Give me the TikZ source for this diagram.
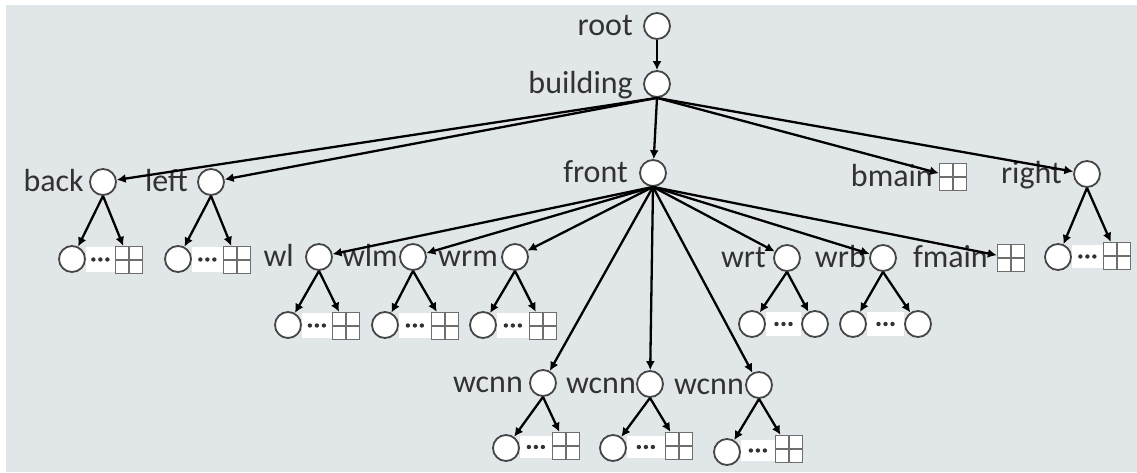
\documentclass[tikz,border=0pt]{standalone}
\usepackage{fontspec}
\setmainfont{Carlito}
\usetikzlibrary{arrows.meta,calc}
\pgfdeclarelayer{bg}
\pgfsetlayers{bg,main}
\definecolor{bggrey}{RGB}{225,230,233}
\definecolor{outl}{RGB}{70,70,70}
\definecolor{gridc}{RGB}{110,110,110}
\definecolor{txt}{RGB}{50,50,50}
\newcommand{\dotsbetween}[2]{%
  \begin{pgfonlayer}{bg}\fill[white] ($(#1.east)+(0,-12)$) rectangle ($(#2.west)+(0,12)$);\end{pgfonlayer}
  \path (#1.east) -- (#2.west) coordinate[pos=.5] (m#1);
  \fill[txt] ($(m#1)+(-7,0)$) circle (2.2pt) (m#1) circle (2.2pt) ($(m#1)+(7,0)$) circle (2.2pt);}
\begin{document}
\begin{tikzpicture}[x=1pt,y=-1pt,
  cnode/.style={circle,draw=outl,fill=white,line width=1.8pt,minimum size=26,inner sep=0},
  gnode/.style={rectangle,draw=gridc,fill=white,line width=1.3pt,minimum size=27,inner sep=0,
    path picture={\draw[gridc,line width=1.3pt] (path picture bounding box.north) -- (path picture bounding box.south)
      (path picture bounding box.west) -- (path picture bounding box.east);}},
  lbl/.style={anchor=base east,inner sep=0,text=txt,font=\fontsize{32}{38}\selectfont},
  arr/.style={draw=black,line width=2.3pt,-{Latex[length=9pt,width=9pt]}}]
\useasboundingbox (0,0) rectangle (1137,472);
\begin{pgfonlayer}{bg}
\fill[white] (0,0) rectangle (1137,472);
\fill[bggrey] (6,5) rectangle (1137,472);
\end{pgfonlayer}
% main nodes
\node[cnode] (root) at (657,26) {};
\node[cnode] (building) at (657,84) {};
\node[cnode] (back) at (103,182) {};
\node[cnode] (left) at (211,182) {};
\node[cnode] (front) at (653,173) {};
\node[gnode] (bmain) at (953,177) {};
\node[cnode] (right) at (1087,174) {};
\node[cnode] (wl) at (319,257) {};
\node[cnode] (wlm) at (413,257) {};
\node[cnode] (wrm) at (515,257) {};
\node[cnode] (wrt) at (787,258) {};
\node[cnode] (wrb) at (883,258) {};
\node[gnode] (fmain) at (1011,258) {};
\node[cnode] (wc1) at (543,383) {};
\node[cnode] (wc2) at (650,384) {};
\node[cnode] (wc3) at (759,385) {};
% labels
\node[lbl] (lroot) at (633,35) {root};
\node[lbl] (lbuilding) at (633,93) {building};
\node[lbl] (lback) at (84,191) {back};
\node[lbl] (lleft) at (188,191) {left};
\node[lbl] (lfront) at (628,182) {front};
\node[lbl] (lbmain) at (933,186) {bmain};
\node[lbl] (lright) at (1062,183) {right};
\node[lbl] (lwl) at (294,266) {wl};
\node[lbl] (lwlm) at (398,266) {wlm};
\node[lbl] (lwrm) at (498,266) {wrm};
\node[lbl] (lwrt) at (766,267) {wrt};
\node[lbl] (lwrb) at (866,267) {wrb};
\node[lbl] (lfmain) at (988,267) {fmain};
\node[lbl] (lwc1) at (523,392) {wcnn};
\node[lbl] (lwc2) at (636,393) {wcnn};
\node[lbl] (lwc3) at (744,394) {wcnn};
% leaves
\node[cnode] (backc) at (72,259) {};
\node[gnode] (backg) at (129,260) {};
\node[cnode] (leftc) at (178,259) {};
\node[gnode] (leftg) at (237,260) {};
\node[cnode] (rightc) at (1058,257) {};
\node[gnode] (rightg) at (1117,256) {};
\node[cnode] (wlc) at (288,325) {};
\node[gnode] (wlg) at (346,326) {};
\node[cnode] (wlmc) at (385,325) {};
\node[gnode] (wlmg) at (445,326) {};
\node[cnode] (wrmc) at (483,325) {};
\node[gnode] (wrmg) at (543,326) {};
\node[cnode] (wrtc) at (752,324) {};
\node[cnode] (wrtd) at (815,324) {};
\node[cnode] (wrbc) at (853,324) {};
\node[cnode] (wrbd) at (918,324) {};
\node[cnode] (wc1c) at (506,448) {};
\node[gnode] (wc1g) at (566,446) {};
\node[cnode] (wc2c) at (613,448) {};
\node[gnode] (wc2g) at (679,446) {};
\node[cnode] (wc3c) at (727,452) {};
\node[gnode] (wc3g) at (789,449) {};
% dots
\dotsbetween{backc}{backg}
\dotsbetween{leftc}{leftg}
\dotsbetween{rightc}{rightg}
\dotsbetween{wlc}{wlg}
\dotsbetween{wlmc}{wlmg}
\dotsbetween{wrmc}{wrmg}
\dotsbetween{wrtc}{wrtd}
\dotsbetween{wrbc}{wrbd}
\dotsbetween{wc1c}{wc1g}
\dotsbetween{wc2c}{wc2g}
\dotsbetween{wc3c}{wc3g}
% edges
\draw[arr] (root) -- (building);
\foreach \t in {back,left,front,bmain,right} \draw[arr] (building.south) -- (\t);
\foreach \t in {wl,wlm,wrm,wc1,wc2,wc3,wrt,wrb,fmain} \draw[arr] (front.south) -- (\t);
\foreach \p/\a/\b in {back/backc/backg,left/leftc/leftg,right/rightc/rightg,wl/wlc/wlg,wlm/wlmc/wlmg,wrm/wrmc/wrmg,wrt/wrtc/wrtd,wrb/wrbc/wrbd,wc1/wc1c/wc1g,wc2/wc2c/wc2g,wc3/wc3c/wc3g}
  {\draw[arr] (\p.south) -- (\a); \draw[arr] (\p.south) -- (\b);}
\end{tikzpicture}
\end{document}
